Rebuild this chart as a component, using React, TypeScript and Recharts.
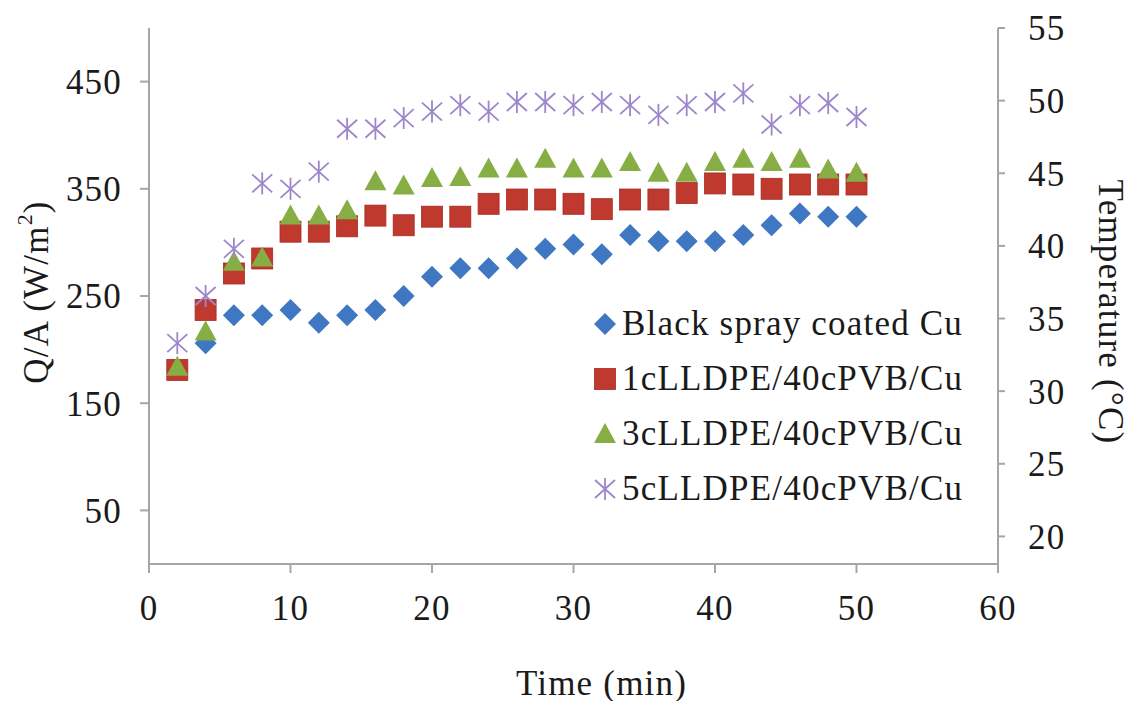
import React from 'react';
import { ScatterChart, Scatter, XAxis, YAxis, Label } from 'recharts';

const times = [2, 4, 6, 8, 10, 12, 14, 16, 18, 20, 22, 24, 26, 28, 30, 32, 34, 36, 38, 40, 42, 44, 46, 48, 50];

const blackSpray = [182, 206, 232, 232, 237, 225, 232, 237, 250, 268, 276, 276, 285, 294, 298, 289, 307, 301, 301, 301, 307, 316, 327, 324, 324];
const lldpe1 = [181, 237, 271, 285, 310, 310, 315, 325, 316, 324, 324, 336, 340, 340, 336, 331, 340, 340, 346, 355, 354, 350, 354, 354, 354];
const lldpe3 = [184, 217, 282, 286, 325, 325, 330, 357, 353, 360, 361, 369, 369, 378, 369, 369, 375, 365, 365, 375, 378, 375, 378, 368, 365];
const lldpe5 = [206, 250, 294, 355, 350, 366, 406, 406, 416, 422, 428, 422, 431, 431, 428, 431, 428, 419, 428, 431, 439, 410, 428, 430, 417];

const xTicks = [0, 10, 20, 30, 40, 50, 60];
const leftTicks = [50, 150, 250, 350, 450];
const rightTicks = [20, 25, 30, 35, 40, 45, 50, 55];

const FONT = '"Liberation Serif", "Times New Roman", serif';
const AXIS = '#a6a6a6';
const INK = '#1a1a1a';

const toPoints = (vals: number[]) => vals.map((v, i) => ({ t: times[i], q: v }));

const Diamond = ({ cx, cy, fill }: any) => (
  <polygon points={`${cx},${cy - 11} ${cx + 11},${cy} ${cx},${cy + 11} ${cx - 11},${cy}`} fill={fill} />
);
const Square = ({ cx, cy, fill }: any) => (
  <rect x={cx - 10.5} y={cy - 10.5} width={21} height={21} fill={fill} stroke="#a52a24" strokeWidth={0.8} />
);
const Triangle = ({ cx, cy, fill }: any) => (
  <polygon points={`${cx},${cy - 11} ${cx + 11},${cy + 9} ${cx - 11},${cy + 9}`} fill={fill} />
);
const Star = ({ cx, cy, fill }: any) => (
  <g stroke={fill} strokeWidth={1.8}>
    <line x1={cx} y1={cy - 11} x2={cx} y2={cy + 11} />
    <line x1={cx - 10} y1={cy - 9} x2={cx + 10} y2={cy + 9} />
    <line x1={cx - 10} y1={cy + 9} x2={cx + 10} y2={cy - 9} />
  </g>
);

const SERIES = [
  { name: 'Black spray coated Cu', data: blackSpray, color: '#3f77c2', shape: Diamond },
  { name: '1cLLDPE/40cPVB/Cu', data: lldpe1, color: '#c0392f', shape: Square },
  { name: '3cLLDPE/40cPVB/Cu', data: lldpe3, color: '#86ae45', shape: Triangle },
  { name: '5cLLDPE/40cPVB/Cu', data: lldpe5, color: '#9c86cc', shape: Star },
];

const textStyle = { fill: INK, fontSize: 35, fontFamily: FONT, letterSpacing: 1.2 };

const leftLabel = ({ viewBox }: any) => {
  const x = viewBox.x + 36;
  const y = viewBox.y + viewBox.height / 2 - 4;
  return (
    <text x={x} y={y} transform={`rotate(-90 ${x} ${y})`} textAnchor="middle" dominantBaseline="central" style={textStyle}>
      Q/A (W/m<tspan dy={-12} fontSize={22}>2</tspan><tspan dy={12}>)</tspan>
    </text>
  );
};

const rightLabel = ({ viewBox }: any) => {
  const x = viewBox.x + 112;
  const y = viewBox.y + viewBox.height / 2 + 16;
  return (
    <text x={x} y={y} transform={`rotate(90 ${x} ${y})`} textAnchor="middle" dominantBaseline="central" style={textStyle}>
      Temperature (°C)
    </text>
  );
};

const bottomLabel = ({ viewBox }: any) => (
  <text x={viewBox.x + viewBox.width / 2 + 28} y={viewBox.y + 119} textAnchor="middle" dominantBaseline="central" style={textStyle}>
    Time (min)
  </text>
);

export default function App() {
  return (
    <div style={{ position: 'absolute', left: 0, top: 0, width: 1138, height: 701, background: '#fff' }}>
      <ScatterChart width={1138} height={701} margin={{ top: 28, right: 0, bottom: 0, left: 0 }}>
        <XAxis
          type="number"
          dataKey="t"
          domain={[0, 60]}
          ticks={xTicks}
          height={137}
          stroke={AXIS}
          strokeWidth={2}
          tickSize={9}
          tick={{ ...textStyle, dy: 20 }}
        >
          <Label content={bottomLabel} />
        </XAxis>
        <YAxis
          yAxisId="left"
          type="number"
          dataKey="q"
          domain={[0, 500]}
          ticks={leftTicks}
          width={149}
          stroke={AXIS}
          strokeWidth={2}
          tickSize={9}
          tick={{ ...textStyle, dx: -16 }}
        >
          <Label content={leftLabel} />
        </YAxis>
        <YAxis
          yAxisId="right"
          orientation="right"
          type="number"
          domain={[18.1, 55]}
          allowDataOverflow
          ticks={rightTicks}
          width={140}
          stroke={AXIS}
          strokeWidth={2}
          tickSize={7}
          tick={{ ...textStyle, dx: 21 }}
        >
          <Label content={rightLabel} />
        </YAxis>
        {SERIES.map((s) => (
          <Scatter
            key={s.name}
            yAxisId="left"
            name={s.name}
            data={toPoints(s.data)}
            fill={s.color}
            shape={s.shape}
            isAnimationActive={false}
          />
        ))}
      </ScatterChart>
      <div style={{ position: 'absolute', left: 591, top: 296, fontFamily: FONT, fontSize: 35, letterSpacing: 1.2, color: INK, lineHeight: 1 }}>
        {SERIES.map((s) => {
          const Shape = s.shape;
          return (
            <div key={s.name} style={{ display: 'flex', alignItems: 'center', height: 55 }}>
              <svg width={28} height={28} style={{ marginRight: 3 }}>
                <Shape cx={14} cy={14} fill={s.color} />
              </svg>
              <span>{s.name}</span>
            </div>
          );
        })}
      </div>
    </div>
  );
}
